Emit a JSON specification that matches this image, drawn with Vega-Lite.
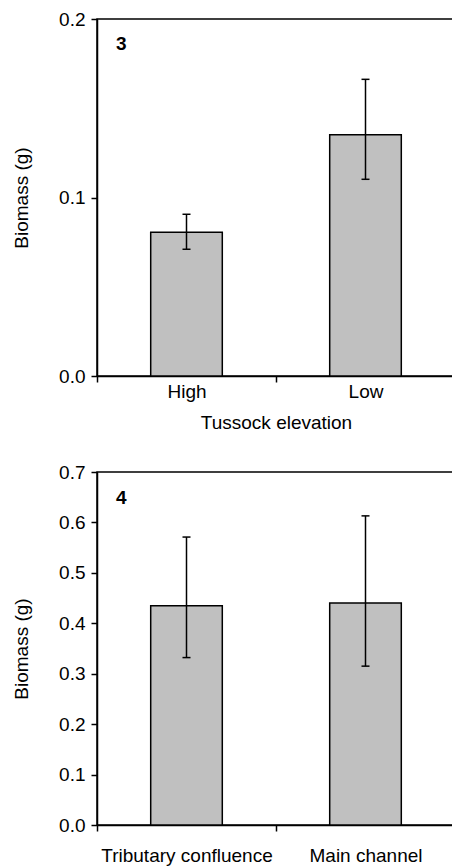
{
  "$schema": "https://vega.github.io/schema/vega-lite/v6.json",
  "padding": {"left": 11, "top": 9, "right": 0, "bottom": 0},
  "background": "white",
  "bounds": "flush",
  "spacing": 96,
  "config": {
    "font": "Liberation Sans",
    "view": {"stroke": "black", "strokeWidth": 1.5},
    "axis": {
      "domainColor": "black", "domainWidth": 1.5,
      "tickColor": "black", "tickWidth": 1.5, "tickSize": 6,
      "labelFont": "Liberation Sans", "labelFontSize": 19, "labelColor": "black",
      "titleFont": "Liberation Sans", "titleFontSize": 19, "titleFontWeight": "normal", "titleColor": "black",
      "grid": false
    }
  },
  "vconcat": [
    {
      "width": 358,
      "height": 357,
      "data": {"values": [
        {"cat": "High", "mean": 0.0805, "lower": 0.071, "upper": 0.0906},
        {"cat": "Low", "mean": 0.1352, "lower": 0.1102, "upper": 0.1662}
      ]},
      "layer": [
        {
          "mark": {"type": "bar", "fill": "#c0c0c0", "stroke": "black", "strokeWidth": 1.5, "width": {"band": 0.4}},
          "encoding": {
            "x": {"field": "cat", "type": "nominal", "sort": ["High", "Low"],
                  "scale": {"paddingInner": 0, "paddingOuter": 0},
                  "axis": {"labelAngle": 0, "tickBand": "extent", "title": "Tussock elevation", "labelPadding": 0, "titlePadding": 12}},
            "y": {"field": "mean", "type": "quantitative", "scale": {"domain": [0, 0.2]},
                  "axis": {"values": [0, 0.1, 0.2], "format": ".1f", "title": "Biomass (g)", "labelPadding": 6, "titlePadding": 27}}
          }
        },
        {
          "mark": {"type": "rule", "strokeWidth": 1.5, "color": "black"},
          "encoding": {
            "x": {"field": "cat", "type": "nominal", "sort": ["High", "Low"]},
            "y": {"field": "lower", "type": "quantitative"},
            "y2": {"field": "upper"}
          }
        },
        {
          "mark": {"type": "tick", "orient": "horizontal", "size": 8, "thickness": 1.5, "color": "black", "opacity": 1},
          "encoding": {
            "x": {"field": "cat", "type": "nominal", "sort": ["High", "Low"]},
            "y": {"field": "upper", "type": "quantitative"}
          }
        },
        {
          "mark": {"type": "tick", "orient": "horizontal", "size": 8, "thickness": 1.5, "color": "black", "opacity": 1},
          "encoding": {
            "x": {"field": "cat", "type": "nominal", "sort": ["High", "Low"]},
            "y": {"field": "lower", "type": "quantitative"}
          }
        },
        {
          "data": {"values": [{"label": "3", "cat": "High", "pos": 0.186}]},
          "mark": {"type": "text", "fontWeight": "bold", "fontSize": 19, "align": "left", "baseline": "middle", "dx": 19, "color": "black"},
          "encoding": {
            "x": {"field": "cat", "type": "nominal", "sort": ["High", "Low"], "bandPosition": 0},
            "y": {"field": "pos", "type": "quantitative"},
            "text": {"field": "label"}
          }
        }
      ]
    },
    {
      "width": 358,
      "height": 353,
      "data": {"values": [
        {"cat": "Tributary confluence", "mean": 0.435, "lower": 0.332, "upper": 0.571},
        {"cat": "Main channel", "mean": 0.440, "lower": 0.315, "upper": 0.613}
      ]},
      "layer": [
        {
          "mark": {"type": "bar", "fill": "#c0c0c0", "stroke": "black", "strokeWidth": 1.5, "width": {"band": 0.4}},
          "encoding": {
            "x": {"field": "cat", "type": "nominal", "sort": ["Tributary confluence", "Main channel"],
                  "scale": {"paddingInner": 0, "paddingOuter": 0},
                  "axis": {"labelAngle": 0, "tickBand": "extent", "title": null, "labelPadding": 15}},
            "y": {"field": "mean", "type": "quantitative", "scale": {"domain": [0, 0.7]},
                  "axis": {"values": [0, 0.1, 0.2, 0.3, 0.4, 0.5, 0.6, 0.7], "format": ".1f", "title": "Biomass (g)", "labelPadding": 6, "titlePadding": 27}}
          }
        },
        {
          "mark": {"type": "rule", "strokeWidth": 1.5, "color": "black"},
          "encoding": {
            "x": {"field": "cat", "type": "nominal", "sort": ["Tributary confluence", "Main channel"]},
            "y": {"field": "lower", "type": "quantitative"},
            "y2": {"field": "upper"}
          }
        },
        {
          "mark": {"type": "tick", "orient": "horizontal", "size": 8, "thickness": 1.5, "color": "black", "opacity": 1},
          "encoding": {
            "x": {"field": "cat", "type": "nominal", "sort": ["Tributary confluence", "Main channel"]},
            "y": {"field": "upper", "type": "quantitative"}
          }
        },
        {
          "mark": {"type": "tick", "orient": "horizontal", "size": 8, "thickness": 1.5, "color": "black", "opacity": 1},
          "encoding": {
            "x": {"field": "cat", "type": "nominal", "sort": ["Tributary confluence", "Main channel"]},
            "y": {"field": "lower", "type": "quantitative"}
          }
        },
        {
          "data": {"values": [{"label": "4", "cat": "Tributary confluence", "pos": 0.648}]},
          "mark": {"type": "text", "fontWeight": "bold", "fontSize": 19, "align": "left", "baseline": "middle", "dx": 19, "color": "black"},
          "encoding": {
            "x": {"field": "cat", "type": "nominal", "sort": ["Tributary confluence", "Main channel"], "bandPosition": 0},
            "y": {"field": "pos", "type": "quantitative"},
            "text": {"field": "label"}
          }
        }
      ]
    }
  ]
}
